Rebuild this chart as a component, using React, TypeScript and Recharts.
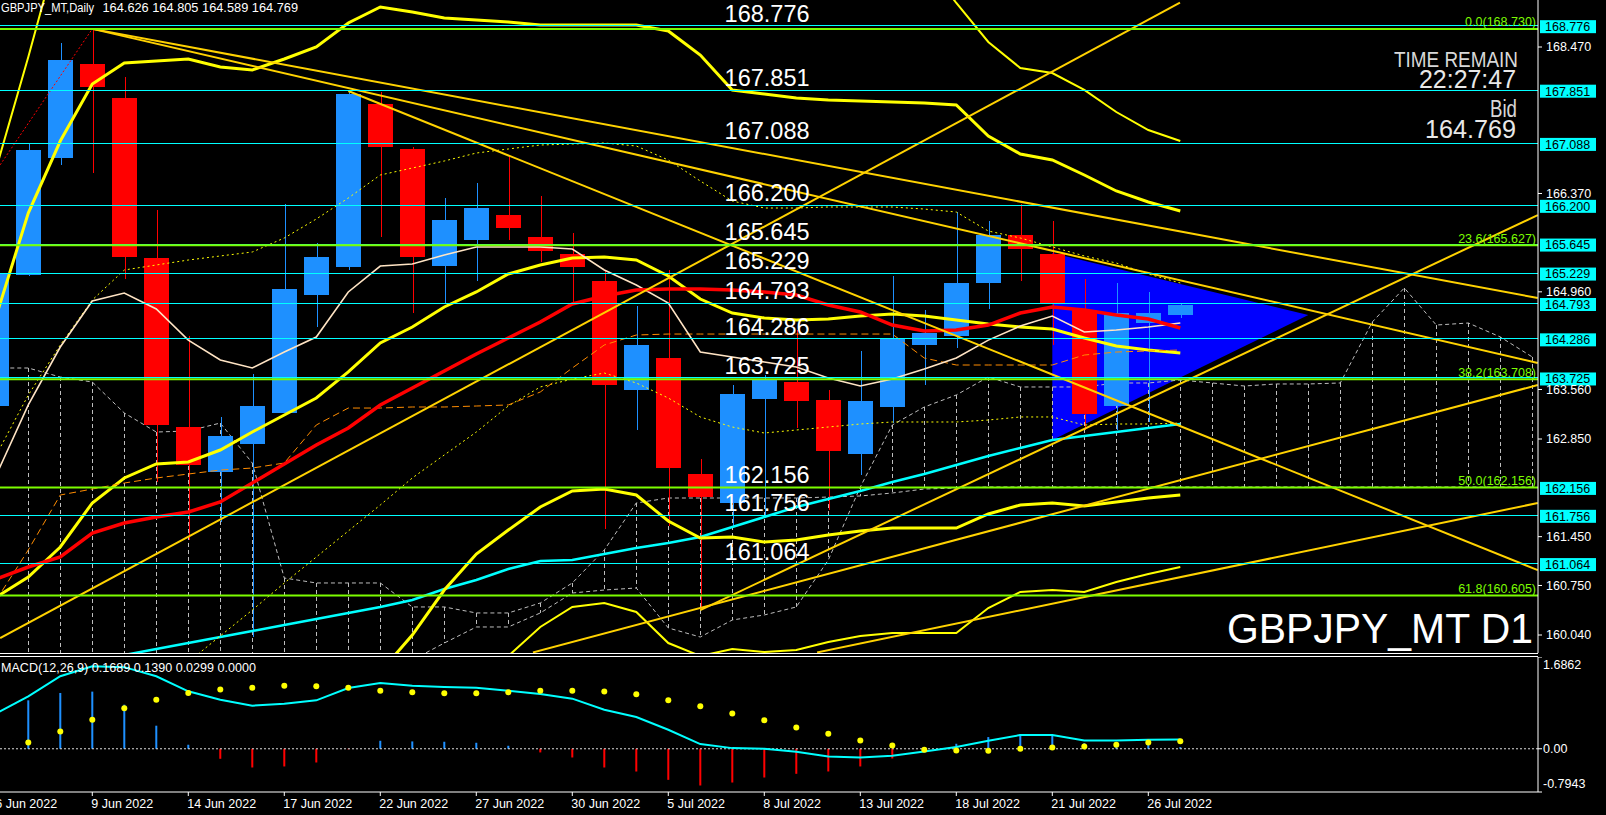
import React from "react";
import { Area, Bar, ComposedChart, Line, ReferenceLine, XAxis, YAxis } from "recharts";

const FONT = "'Liberation Sans', Arial, sans-serif";
const BULL = "#1E90FF";
const BEAR = "#FF0000";
const CYAN = "#00FFFF";
const FIB = "#7CFC00";
const GOLD = "#FFD200";
const YELLOW = "#FFFF00";
const CLOUD = "#BEBEBE";

const WIDTH = 1606;
const AXIS_W = 68;
const MAIN_H = 653;
const SUB_TOP = 657;
const SUB_H = 158;

// bar index 0 = 9 Jun 2022, the chart starts with the partly hidden 6 Jun bar
const FIRST_BAR = -3;
const X_DOMAIN: [number, number] = [-2.884, 45.178];
const PRICE_DOMAIN: [number, number] = [159.782, 169.144];
const MACD_DOMAIN: [number, number] = [-0.7943, 1.6862];

const days = [
  "6 Jun", "7 Jun", "8 Jun", "9 Jun", "10 Jun", "13 Jun", "14 Jun", "15 Jun", "16 Jun", "17 Jun",
  "20 Jun", "21 Jun", "22 Jun", "23 Jun", "24 Jun", "27 Jun", "28 Jun", "29 Jun", "30 Jun", "1 Jul",
  "4 Jul", "5 Jul", "6 Jul", "7 Jul", "8 Jul", "11 Jul", "12 Jul", "13 Jul", "14 Jul", "15 Jul",
  "18 Jul", "19 Jul", "20 Jul", "21 Jul", "22 Jul", "25 Jul", "26 Jul", "27 Jul",
];

const opens = [
  163.33, 165.2, 166.88, 168.23, 167.74, 165.45, 163.02, 162.37, 162.78, 163.23,
  164.92, 165.31, 167.66, 167.01, 165.33, 165.71, 166.06, 165.75, 165.5, 165.115,
  163.55, 164.01, 162.35, 161.93, 163.42, 163.67, 163.41, 162.63, 163.31, 164.2,
  164.33, 165.09, 165.77, 165.5, 164.7, 163.33, 164.52, 164.626,
];
const highs = [
  165.3, 167.09, 168.53, 168.73, 168.04, 166.13, 164.32, 163.16, 163.78, 166.22,
  165.66, 167.84, 167.83, 167.03, 166.31, 166.52, 166.91, 166.33, 165.81, 165.27,
  164.75, 165.27, 162.57, 163.62, 163.77, 164.41, 163.55, 164.11, 165.19, 164.7,
  166.11, 165.98, 166.22, 165.98, 165.14, 165.09, 164.96, 164.805,
];
const lows = [
  163.25, 165.18, 166.78, 166.67, 165.15, 162.24, 161.4, 161.66, 160.01, 163.2,
  164.46, 165.28, 165.75, 164.65, 164.79, 165.12, 165.71, 165.39, 164.79, 161.56,
  162.98, 161.6, 160.4, 161.59, 161.72, 163.01, 161.83, 162.33, 163.08, 163.62,
  164.16, 164.71, 165.12, 164.2, 162.98, 162.98, 163.1, 164.589,
];
const closes = [
  165.23, 166.99, 168.28, 167.89, 165.46, 163.05, 162.48, 162.89, 163.32, 165.0,
  165.46, 167.79, 167.03, 165.46, 165.99, 166.16, 165.88, 165.55, 165.31, 163.62,
  164.2, 162.44, 162.02, 163.49, 163.69, 163.4, 162.68, 163.39, 164.28, 164.37,
  165.09, 165.77, 165.58, 164.8, 163.21, 164.66, 164.66, 164.769,
];

const redMa = [
  160.843, 161.015, 161.158, 161.502, 161.646, 161.732, 161.803, 161.947, 162.219, 162.492,
  162.764, 163.008, 163.338, 163.581, 163.825, 164.069, 164.298, 164.528, 164.786, 164.9,
  164.986, 165.001, 165.001, 164.986, 164.958, 164.915, 164.771, 164.671, 164.484, 164.398,
  164.413, 164.484, 164.656, 164.742, 164.7, 164.628, 164.571, 164.441,
];
const whiteMa = [
  162.334, 163.338, 164.169, 164.829, 164.943, 164.714, 164.268, 163.983, 163.868, 164.097,
  164.312, 164.958, 165.33, 165.359, 165.488, 165.603, 165.603, 165.603, 165.574, 165.273,
  165.058, 164.8, 164.097, 164.026, 163.954, 163.882, 163.725, 163.61, 163.71, 163.854,
  164.011, 164.268, 164.47, 164.613, 164.384, 164.413, 164.456, 164.513,
];
const bandMid = [
  160.585, 160.872, 161.302, 161.933, 162.291, 162.492, 162.52, 162.692, 162.95, 163.194,
  163.438, 163.811, 164.227, 164.456, 164.743, 164.958, 165.216, 165.345, 165.445, 165.459,
  165.416, 165.187, 164.857, 164.656, 164.585, 164.556, 164.571, 164.614, 164.642, 164.614,
  164.556, 164.499, 164.456, 164.427, 164.298, 164.183, 164.126, 164.083,
];
const bandUpper = [
  164.614, 166.09, 167.122, 167.94, 168.241, 168.269, 168.298, 168.183, 168.14, 168.298,
  168.47, 168.814, 169.044, 168.972, 168.886, 168.857, 168.829, 168.786, 168.786, 168.786,
  168.786, 168.7, 168.355, 167.854, 167.797, 167.739, 167.71, 167.696, 167.682, 167.667,
  167.639, 167.194, 166.936, 166.85, 166.635, 166.406, 166.248, 166.119,
];
const bandLower = [
  null, null, null, null, null, null, null, null, null, null,
  null, null, 159.51, 160.04, 160.685, 161.201, 161.545, 161.875, 162.105, 162.133,
  162.047, 161.674, 161.431, 161.445, 161.373, 161.402, 161.474, 161.531, 161.574, 161.574,
  161.574, 161.775, 161.904, 161.933, 161.89, 161.947, 162.004, 162.047,
];
const outerUpper = [
  166.735, 168.327, 170.004, null, null, null, null, null, null, null,
  null, null, null, null, null, null, null, null, null, null,
  null, null, null, null, null, null, null, null, null, 169.717,
  169.101, 168.542, 168.169, 168.097, 167.854, 167.538, 167.28, 167.122,
];
const outerLower = [
  null, null, null, null, null, null, null, null, null, null,
  null, null, null, null, null, 159.251, 159.739, 160.155, 160.442, 160.499,
  160.37, 159.925, 159.739, 159.839, 159.796, 159.825, 159.94, 160.026, 160.069, 160.069,
  160.069, 160.427, 160.657, 160.685, 160.657, 160.8, 160.915, 161.015,
];
const dottedUpper = [
  162.621, 163.481, 164.198, 164.843, 165.273, 165.345, 165.416, 165.474, 165.531, 165.732,
  166.004, 166.305, 166.635, 166.735, 166.836, 166.95, 167.008, 167.065, 167.079, 167.094,
  167.051, 166.85, 166.549, 166.262, 166.162, 166.162, 166.176, 166.176, 166.176, 166.147,
  166.104, 165.832, 165.732, 165.603, 165.474, 165.373, 165.216, 165.087,
];
const dottedLower = [
  null, null, null, null, null, 159.251, 159.653, 160.026, 160.398, 160.785,
  161.158, 161.531, 161.904, 162.291, 162.621, 162.95, 163.323, 163.596, 163.71, 163.796,
  163.653, 163.438, 163.166, 163.022, 162.936, 162.979, 163.022, 163.065, 163.094, 163.094,
  163.094, 163.122, 163.166, 163.166, 163.051, 163.065, 163.065, 163.079,
];
const orangeLine = [
  160.542, 161.259, 162.047, 162.133, 162.219, 162.291, 162.348, 162.405, 162.434, 162.506,
  163.051, 163.294, 163.294, 163.309, 163.309, 163.323, 163.338, 163.524, 163.868, 164.198,
  164.341, 164.355, 164.355, 164.355, 164.355, 164.355, 164.355, 164.355, 164.355, 164.011,
  163.911, 163.911, 163.911, 163.911, 164.054, 164.097, 164.112, 164.126,
];
const cyanMa = [
  null, null, null, null, 159.753, 159.839, 159.925, 160.011, 160.097, 160.183,
  160.27, 160.356, 160.442, 160.542, 160.7, 160.829, 160.986, 161.101, 161.115, 161.201,
  161.287, 161.359, 161.445, 161.588, 161.732, 161.875, 161.99, 162.105, 162.234, 162.348,
  162.477, 162.606, 162.721, 162.836, 162.893, 162.951, 163.008, 163.065,
];

// cloud spans run 11 bars past the last candle
const spanA = [
  163.868, 163.868, 163.739, 163.667, 163.223, 162.95, 162.965, 163.079, 162.506, 160.857,
  160.786, 160.786, 160.786, 160.442, 160.442, 160.356, 160.356, 160.499, 160.786, 161.259,
  161.933, 162.004, 162.004, 162.004, 162.004, 162.004, 162.018, 162.033, 162.076, 162.133,
  162.147, 162.162, 162.162, 162.162, 162.162, 162.162, 162.162, 162.162, 162.162, 162.162,
  162.162, 162.162, 162.162, 162.162, 162.162, 162.162, 162.162, 162.162, 162.162,
];
const spanB = [
  159.5, 159.5, 159.5, 159.5, 159.5, 159.5, 159.5, 159.5, 159.5, 159.5,
  159.5, 159.5, 159.5, 159.681, 159.925, 160.155, 160.155, 160.356, 160.642, 160.685,
  160.714, 160.141, 160.011, 160.255, 160.327, 160.442, 161.115, 162.162, 163.051, 163.309,
  163.481, 163.739, 163.596, 163.596, 163.596, 163.653, 163.653, 163.696, 163.653, 163.61,
  163.639, 163.639, 163.653, 164.528, 165.015, 164.484, 164.513, 164.313, 164.026,
];

const macdMain = [
  0.65, 0.964, 1.332, 1.516, 1.5, 1.332, 1.056, 0.902, 0.792, 0.829,
  0.89, 1.117, 1.209, 1.16, 1.136, 1.123, 1.068, 1.007, 0.921, 0.718,
  0.583, 0.35, 0.086, 0.012, 0.0, -0.055, -0.141, -0.16, -0.129, -0.049,
  0.031, 0.147, 0.252, 0.252, 0.153, 0.153, 0.166, 0.169,
];
const macdSignal = [
  null, 0.117, 0.319, 0.534, 0.743, 0.902, 1.025, 1.087, 1.123, 1.16,
  1.148, 1.123, 1.068, 1.037, 1.019, 1.019, 1.037, 1.068, 1.068, 1.05,
  1.0, 0.89, 0.78, 0.65, 0.522, 0.393, 0.276, 0.153, 0.061, -0.018,
  -0.031, -0.037, 0.0, 0.025, 0.043, 0.074, 0.117, 0.139,
];
const macdHist = [
  null, 0.89, 1.025, 1.05, 0.81, 0.424, 0.074, -0.184, -0.344, -0.325,
  -0.252, -0.01, 0.147, 0.135, 0.129, 0.11, 0.055, -0.067, -0.16, -0.344,
  -0.418, -0.571, -0.675, -0.62, -0.528, -0.46, -0.417, -0.325, -0.178, -0.02,
  0.092, 0.215, 0.27, 0.252, 0.104, 0.074, 0.074, 0.03,
];

const cyanLevels = [168.776, 167.851, 167.088, 166.2, 165.645, 165.229, 164.793, 164.286, 163.725, 162.156, 161.756, 161.064];
const fibPercents = ["0.0", "23.6", "38.2", "50.0", "61.8"];
const fibPrices = [168.73, 165.627, 163.708, 162.156, 160.605];
const priceTicks = [168.47, 166.37, 164.96, 163.56, 162.85, 161.45, 160.75, 160.04];
const macdTicks = [1.6862, 0, -0.7943];
const labelBars = [-3, 0, 3, 6, 9, 12, 15, 18, 21, 24, 27, 30, 33];

// [bar, price] pairs
const trendLines: [number, number][][] = [
  [[0, 168.73], [45.17, 164.871]],
  [[0, 168.73], [45.17, 163.94]],
  [[8, 167.84], [45.17, 160.97]],
  [[-2.88, 159.997], [33.99, 169.105]],
  [[19, 160.398], [45.17, 166.061]],
  [[13.77, 159.79], [45.17, 163.624]],
  [[22.65, 159.79], [45.17, 161.932]],
];
const zigzag: [number, number][] = [[-2.88, 166.78], [0, 168.73]];

const triangleBars = [30, 38];
const triangleUpper = [165.517, 164.628];
const triangleLower = [162.836, 164.628];

const rows = spanA.map((a, k) => ({
  i: FIRST_BAR + k,
  o: opens[k] ?? null,
  h: highs[k] ?? null,
  l: lows[k] ?? null,
  c: closes[k] ?? null,
  red: redMa[k] ?? null,
  white: whiteMa[k] ?? null,
  mid: bandMid[k] ?? null,
  up: bandUpper[k] ?? null,
  low: bandLower[k] ?? null,
  up3: outerUpper[k] ?? null,
  low3: outerLower[k] ?? null,
  dotUp: dottedUpper[k] ?? null,
  dotLow: dottedLower[k] ?? null,
  orange: orangeLine[k] ?? null,
  cyan: cyanMa[k] ?? null,
  spanA: a,
  spanB: spanB[k],
}));

const macdRows = days.map((_, k) => ({
  i: FIRST_BAR + k,
  macd: macdMain[k],
  sig: macdSignal[k],
  hist: macdHist[k],
}));

const triangleRows = triangleBars.map((i, k) => ({ i, band: [triangleLower[k], triangleUpper[k]] }));

const candleRange = (d: any) => (d.h == null ? null : [d.l, d.h]);
const cloudRange = (d: any) => [Math.min(d.spanA, d.spanB), Math.max(d.spanA, d.spanB)];

function Candle(props: any) {
  const { x, y, width, height, payload } = props;
  if (!payload || payload.h == null || !Number.isFinite(y) || !Number.isFinite(height)) return null;
  const top = Math.min(y, y + height);
  const span = Math.abs(height);
  const ppu = span / (payload.h - payload.l);
  const at = (v: number) => top + (payload.h - v) * ppu;
  const color = payload.c >= payload.o ? BULL : BEAR;
  const cx = Math.round(x + width / 2) + 0.5;
  const bodyTop = at(Math.max(payload.o, payload.c));
  const bodyBottom = at(Math.min(payload.o, payload.c));
  return (
    <g shapeRendering="crispEdges">
      <line x1={cx} x2={cx} y1={top} y2={top + span} stroke={color} strokeWidth={1} />
      <rect x={x} y={bodyTop} width={width} height={Math.max(1, bodyBottom - bodyTop)} fill={color} />
    </g>
  );
}

function CloudStroke(props: any) {
  const { x, y, width, height } = props;
  if (!Number.isFinite(y) || !Number.isFinite(height)) return null;
  const cx = Math.round(x + width / 2) + 0.5;
  const top = Math.min(y, y + height);
  return (
    <line x1={cx} x2={cx} y1={top} y2={top + Math.abs(height)} stroke={CLOUD} strokeWidth={1} strokeDasharray="4 3" />
  );
}

function HistBar(props: any) {
  const { x, y, width, height, payload } = props;
  if (!payload || payload.hist == null || !Number.isFinite(y)) return null;
  const top = Math.min(y, y + height);
  const cx = x + width / 2;
  return (
    <rect x={cx - 1} y={top} width={2} height={Math.max(0.5, Math.abs(height))} fill={payload.hist >= 0 ? BULL : BEAR} />
  );
}

const cyanLabel = (price: number) => (p: any) => {
  const { x, y, width } = p.viewBox;
  const text = price.toFixed(3);
  return (
    <g fontFamily={FONT}>
      <text x={x + 724.6} y={y - 4} fill="#fff" fontSize={23.5}>{text}</text>
      <rect x={x + width + 2} y={y - 5.5} width={56} height={13} fill={CYAN} />
      <text x={x + width + 7} y={y + 1} dy="0.35em" fill="#000" fontSize={12.5}>{text}</text>
    </g>
  );
};

const fibLabel = (k: number) => (p: any) => {
  const { x, y, width } = p.viewBox;
  return (
    <text x={x + width - 2} y={y - 2.5} textAnchor="end" fill={FIB} fontSize={12.5} fontFamily={FONT}>
      {`${fibPercents[k]}(${fibPrices[k].toFixed(3)})`}
    </text>
  );
};

function MacdTick(p: any) {
  const v = p.payload.value;
  let y = p.y;
  if (v === MACD_DOMAIN[1]) y += 8;
  if (v === MACD_DOMAIN[0]) y -= 8;
  return (
    <text x={p.x} y={y} dy="0.35em" fill="#fff" fontSize={12.5} fontFamily={FONT}>
      {v === 0 ? "0.00" : v.toFixed(4)}
    </text>
  );
}

function DateTick(p: any) {
  const bar = p.payload.value;
  return (
    <text x={p.x - 1} y={p.y + 10} fill="#fff" fontSize={12.5} fontFamily={FONT}>
      {`${days[bar - FIRST_BAR]} 2022`}
    </text>
  );
}

const noMargin = { top: 0, right: 0, bottom: 0, left: 0 };

export default function App() {
  return (
    <div style={{ position: "absolute", left: 0, top: 0, width: WIDTH, height: 815, background: "#000", overflow: "hidden", fontFamily: FONT }}>
      <div style={{ position: "absolute", left: 0, top: 0 }}>
        <ComposedChart width={WIDTH} height={MAIN_H} data={rows} margin={{ ...noMargin, right: AXIS_W }}>
          <XAxis type="number" dataKey="i" domain={X_DOMAIN} allowDataOverflow hide ticks={labelBars} />
          <YAxis domain={PRICE_DOMAIN} allowDataOverflow hide />
          <Area data={triangleRows} dataKey="band" stroke="none" fill="#0000FF" fillOpacity={1} isAnimationActive={false} />
          <Bar dataKey={cloudRange} barSize={2} shape={CloudStroke} isAnimationActive={false} />
          <Line dataKey="spanA" stroke={CLOUD} strokeDasharray="4 3" dot={false} isAnimationActive={false} />
          <Line dataKey="spanB" stroke={CLOUD} strokeDasharray="4 3" dot={false} isAnimationActive={false} />
        </ComposedChart>
      </div>

      <div style={{ position: "absolute", left: 0, top: 0 }}>
        <ComposedChart width={WIDTH} height={MAIN_H} data={rows} margin={noMargin}>
          <XAxis type="number" dataKey="i" domain={X_DOMAIN} allowDataOverflow hide ticks={labelBars} />
          <YAxis
            orientation="right"
            width={AXIS_W}
            domain={PRICE_DOMAIN}
            allowDataOverflow
            ticks={priceTicks}
            interval={0}
            tickFormatter={(v: number) => v.toFixed(3)}
            tick={{ fill: "#fff", fontSize: 12.5, fontFamily: FONT }}
            tickLine={{ stroke: "#fff" }}
            tickSize={4}
            tickMargin={4}
            axisLine={{ stroke: "#fff" }}
          />
          <Bar dataKey={candleRange} barSize={25} shape={Candle} isAnimationActive={false} />
          <Line dataKey="cyan" stroke={CYAN} strokeWidth={2.5} dot={false} isAnimationActive={false} />
          <Line dataKey="low3" stroke={YELLOW} strokeWidth={2} dot={false} isAnimationActive={false} />
          <Line dataKey="up3" stroke={YELLOW} strokeWidth={2} dot={false} isAnimationActive={false} />
          <Line dataKey="low" stroke={YELLOW} strokeWidth={3} dot={false} isAnimationActive={false} />
          <Line dataKey="up" stroke={YELLOW} strokeWidth={3} dot={false} isAnimationActive={false} />
          <Line dataKey="mid" stroke={YELLOW} strokeWidth={3} dot={false} isAnimationActive={false} />
          <Line dataKey="dotUp" stroke={YELLOW} strokeWidth={1} strokeDasharray="2 3" dot={false} isAnimationActive={false} />
          <Line dataKey="dotLow" stroke={YELLOW} strokeWidth={1} strokeDasharray="2 3" dot={false} isAnimationActive={false} />
          <Line dataKey="orange" stroke="#FF8C00" strokeWidth={1} strokeDasharray="7 4" dot={false} isAnimationActive={false} />
          <Line dataKey="white" stroke="#FFE4C4" strokeWidth={1.6} dot={false} isAnimationActive={false} />
          <Line dataKey="red" stroke={BEAR} strokeWidth={3.5} dot={false} isAnimationActive={false} />
          {trendLines.map((seg, k) => (
            <ReferenceLine
              key={`t${k}`}
              segment={seg.map(([x, y]) => ({ x, y }))}
              stroke={GOLD}
              strokeWidth={2}
              ifOverflow="visible"
            />
          ))}
          <ReferenceLine
            segment={zigzag.map(([x, y]) => ({ x, y }))}
            stroke={BEAR}
            strokeWidth={1}
            strokeDasharray="2 2"
            ifOverflow="visible"
          />
          {cyanLevels.map((p) => (
            <ReferenceLine key={`c${p}`} y={p} stroke={CYAN} strokeWidth={1} shapeRendering="crispEdges" label={cyanLabel(p)} />
          ))}
          {fibPrices.map((p, k) => (
            <ReferenceLine key={`f${p}`} y={p} stroke={FIB} strokeWidth={2} label={fibLabel(k)} />
          ))}
        </ComposedChart>
      </div>

      <div style={{ position: "absolute", left: 0, top: SUB_TOP }}>
        <ComposedChart width={WIDTH} height={SUB_H} data={macdRows} margin={noMargin}>
          <XAxis
            type="number"
            dataKey="i"
            domain={X_DOMAIN}
            allowDataOverflow
            ticks={labelBars}
            interval={0}
            height={SUB_H - 135}
            tick={DateTick}
            tickLine={{ stroke: "#fff" }}
            tickSize={4}
            tickMargin={2}
            axisLine={{ stroke: "#fff" }}
          />
          <YAxis
            orientation="right"
            width={AXIS_W}
            domain={MACD_DOMAIN}
            allowDataOverflow
            ticks={macdTicks}
            interval={0}
            tick={MacdTick}
            tickLine={{ stroke: "#fff" }}
            tickSize={4}
            tickMargin={1}
            axisLine={{ stroke: "#fff" }}
          />
          <ReferenceLine y={0} stroke="#DDDDDD" strokeDasharray="2 2" />
          <Bar dataKey="hist" barSize={2} shape={HistBar} isAnimationActive={false} />
          <Line dataKey="macd" stroke={CYAN} strokeWidth={2} dot={false} isAnimationActive={false} />
          <Line
            dataKey="sig"
            stroke="none"
            dot={{ r: 3, fill: YELLOW, stroke: "none" }}
            isAnimationActive={false}
          />
        </ComposedChart>
      </div>

      <svg
        width={WIDTH}
        height={815}
        style={{ position: "absolute", left: 0, top: 0, pointerEvents: "none" }}
        fontFamily={FONT}
      >
        <text x={1} y={11.7} fill="#fff" fontSize={12.5} textLength={93} lengthAdjust="spacingAndGlyphs">GBPJPY_MT,Daily</text>
        <text x={102.5} y={11.7} fill="#fff" fontSize={12.5} textLength={195.5} lengthAdjust="spacingAndGlyphs">164.626 164.805 164.589 164.769</text>

        <text x={1394} y={66.7} fill="#D8D8D8" fontSize={22.5} textLength={124} lengthAdjust="spacingAndGlyphs">TIME REMAIN</text>
        <text x={1419} y={88.3} fill="#E8E8E8" fontSize={25.5} textLength={97} lengthAdjust="spacingAndGlyphs">22:27:47</text>
        <text x={1490} y={116.7} fill="#D8D8D8" fontSize={23} textLength={27} lengthAdjust="spacingAndGlyphs">Bid</text>
        <text x={1425} y={138.3} fill="#E8E8E8" fontSize={25.5} textLength={91} lengthAdjust="spacingAndGlyphs">164.769</text>

        <text x={1227} y={643} fill="#fff" fontSize={42} textLength={306} lengthAdjust="spacingAndGlyphs">GBPJPY_MT D1</text>

        <line x1={0} x2={1538} y1={653.5} y2={653.5} stroke="#fff" strokeWidth={1} />
        <line x1={0} x2={1538} y1={656.5} y2={656.5} stroke="#fff" strokeWidth={1} />

        <text x={1} y={671.7} fill="#fff" fontSize={12.5} textLength={255} lengthAdjust="spacingAndGlyphs">MACD(12,26,9) 0.1689 0.1390 0.0299 0.0000</text>
      </svg>
    </div>
  );
}
